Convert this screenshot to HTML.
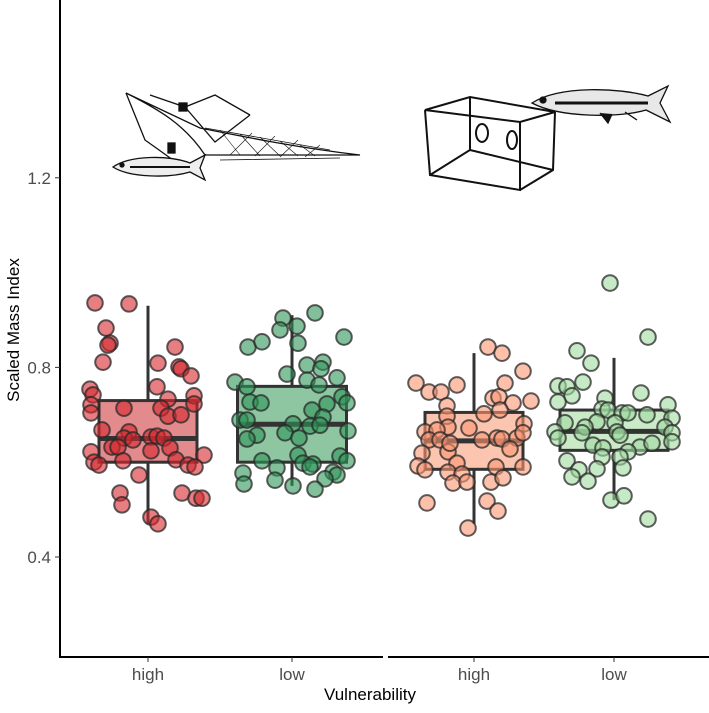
<!DOCTYPE html>
<html><head><meta charset="utf-8"><style>
body{margin:0;background:#fff;}
svg{font-family:"Liberation Sans",sans-serif;}
</style></head><body>
<svg id="chart" width="709" height="708" viewBox="0 0 709 708" xmlns="http://www.w3.org/2000/svg">
<rect width="709" height="708" fill="#fff"/>
<g id="illus" fill="none" stroke="#111" stroke-width="1.3">
  <g>
    <path d="M126 93 C160 110 185 125 205 155 L360 155 C300 148 250 138 200 128 Z" fill="#fff"/>
    <path d="M205 155 L360 155 M205 128 L330 150 M220 160 L340 158" stroke-width="0.8"/>
    <path d="M220 130 l20 25 M240 134 l20 22 M260 137 l20 19 M280 141 l18 15 M300 145 l15 11 M230 155 l22 -22 M255 156 l20 -20 M280 157 l18 -17 M305 157 l15 -12" stroke-width="0.6"/>
    <path d="M126 93 L145 140 L180 165 M150 95 L185 107 L215 95 L250 115 M185 107 L215 142 L250 115"/>
    <rect x="179" y="103" width="8" height="8" fill="#111"/>
    <rect x="168" y="143" width="7" height="10" fill="#111"/>
  </g>
  <g>
    <path d="M113 167 C130 155 170 155 190 163 L205 155 L200 168 L205 180 L190 172 C170 178 130 178 113 167 Z" fill="#eee"/>
    <path d="M130 167 L190 167" stroke-width="2"/>
    <circle cx="122" cy="165" r="2" fill="#111"/>
  </g>
  <g stroke-width="2">
    <path d="M425 110 L470 97 L555 112 L520 122 Z M425 110 L430 175 L520 190 L520 122 M520 190 L553 170 L555 112 M470 97 L470 150 L430 175 M470 150 L553 170" />
    <ellipse cx="482" cy="133" rx="6" ry="9"/><ellipse cx="512" cy="140" rx="5" ry="9"/>
  </g>
  <g>
    <path d="M532 103 C560 85 620 88 648 96 L668 86 L660 103 L670 122 L646 110 C620 118 560 118 532 103 Z" fill="#e8e8e8"/>
    <path d="M555 103 L648 103" stroke-width="3"/>
    <path d="M600 113 l8 10 l4 -9 M625 112 l12 8" fill="#111"/>
    <circle cx="543" cy="100" r="3" fill="#111"/>
  </g>
</g>
<g id="axes"></g>
<g id="plot"></g>
</svg>
<script>
const categories=["high","low","high","low"];
const q1s=[0.60,0.60,0.585,0.625];
const medians=[0.65,0.68,0.645,0.665];
const q3s=[0.73,0.76,0.705,0.71];
const whiskLo=[0.47,0.55,0.47,0.52];
const whiskHi=[0.93,0.91,0.83,0.82];
const yTicks=[0.4,0.8,1.2];
const g1Vals=[0.936,0.934,0.883,0.851,0.847,0.811,0.843,0.809,0.801,0.797,0.782,0.759,0.754,0.742,0.740,0.721,0.704,0.733,0.723,0.714,0.714,0.697,0.700,0.668,0.664,0.651,0.647,0.653,0.655,0.651,0.632,0.632,0.624,0.630,0.622,0.600,0.594,0.603,0.605,0.615,0.594,0.590,0.573,0.535,0.510,0.535,0.524,0.524,0.484,0.470];
const g1Jit=[-53,-19,-42,-38,-40,-45,27,10,31,33,43,9,-58,-55,46,-57,-57,20,46,-24,13,20,33,-46,-19,-24,-15,3,9,16,-36,-30,3,22,-57,-54,-49,-25,28,56,40,47,-9,-28,-26,34,48,54,3,10];
const g2Vals=[0.915,0.904,0.887,0.879,0.851,0.843,0.854,0.864,0.805,0.811,0.797,0.786,0.769,0.759,0.773,0.763,0.778,0.727,0.725,0.738,0.725,0.723,0.710,0.689,0.689,0.695,0.681,0.676,0.678,0.666,0.662,0.657,0.649,0.651,0.615,0.613,0.603,0.603,0.598,0.596,0.590,0.588,0.577,0.579,0.573,0.562,0.565,0.554,0.550,0.543];
const g2Jit=[23,-9,5,-12,6,-44,-30,52,15,31,29,-5,-57,-45,15,27,45,-42,-31,50,55,35,20,-52,-45,31,1,18,28,56,-7,-35,-45,7,6,48,55,-30,11,21,18,-15,-49,41,45,-17,33,-48,1,23];
const g3Vals=[0.843,0.830,0.792,0.767,0.748,0.748,0.763,0.767,0.735,0.738,0.725,0.729,0.719,0.710,0.702,0.697,0.674,0.672,0.681,0.664,0.668,0.647,0.647,0.647,0.651,0.649,0.651,0.662,0.628,0.619,0.622,0.640,0.598,0.592,0.584,0.590,0.590,0.579,0.575,0.556,0.558,0.558,0.567,0.514,0.518,0.497,0.461];
const g3Jit=[14,28,49,-58,-45,-33,-17,31,19,25,39,57,-27,26,10,-27,-26,-5,50,-49,-37,-45,-34,8,23,28,43,49,36,-52,-26,-24,-17,-56,-49,22,49,-26,-12,-21,-7,17,29,-47,13,24,-6];
const g4Vals=[0.978,0.864,0.835,0.809,0.769,0.761,0.759,0.740,0.746,0.727,0.735,0.721,0.712,0.710,0.704,0.704,0.700,0.693,0.685,0.683,0.683,0.664,0.674,0.664,0.674,0.651,0.662,0.657,0.662,0.643,0.636,0.630,0.632,0.640,0.622,0.611,0.611,0.603,0.586,0.588,0.584,0.569,0.560,0.520,0.529,0.480];
const g4Jit=[-4,34,-37,-23,-31,-56,-47,-42,27,-56,-9,54,-12,-6,8,14,33,58,-17,1,-49,-59,-29,3,51,-56,-32,6,58,58,-21,-11,26,38,14,-12,6,-47,-17,9,-35,-42,-26,-3,10,34];
const pointVals=[g1Vals,g2Vals,g3Vals,g4Vals];
const pointJit=[g1Jit,g2Jit,g3Jit,g4Jit];

const NS="http://www.w3.org/2000/svg";
const y=v=>557-(v-0.4)*474;
const xCenter=[148,292,474,614];
const boxW=[98,109,98,108];
const boxFill=["#e38a8c","#8fc6a2","#fcc5b0","#cbeac8"];
const ptFill=["rgba(214,40,46,0.6)","rgba(46,150,88,0.6)","rgba(252,150,115,0.6)","rgba(160,218,160,0.6)"];
function mk(tag,attrs,parent){const e=document.createElementNS(NS,tag);for(const k in attrs)e.setAttribute(k,attrs[k]);parent.appendChild(e);return e;}
const axes=document.getElementById('axes'),plot=document.getElementById('plot');
const ya=mk('line',{x1:60,y1:0,x2:60,y2:658,stroke:'#000','stroke-width':2},axes);


const xa1=mk('line',{x1:59,y1:657,x2:383,y2:657,stroke:'#000','stroke-width':2},axes);


const xa2=mk('line',{x1:388,y1:657,x2:709,y2:657,stroke:'#000','stroke-width':2},axes);


yTicks.forEach(t=>{
  const tk=mk('line',{x1:55,x2:60,y1:y(t),y2:y(t),stroke:'#333','stroke-width':1},axes);
  
  
  const tl=mk('text',{x:51,y:y(t)+6,'text-anchor':'end','font-size':17,fill:'#4d4d4d'},axes);
  tl.textContent=t.toFixed(1);
  
  
});
categories.forEach((c,i)=>{
  const tk=mk('line',{x1:xCenter[i],x2:xCenter[i],y1:657,y2:662,stroke:'#333'},axes);
  
  
  const tl=mk('text',{x:xCenter[i],y:680,'text-anchor':'middle','font-size':17,fill:'#4d4d4d'},axes);
  tl.textContent=c;
  
  
});
const yt=mk('text',{x:0,y:0,transform:'translate(19,330) rotate(-90)','text-anchor':'middle','font-size':17,fill:'#000'},axes);
yt.textContent='Scaled Mass Index';


const xt=mk('text',{x:370,y:700,'text-anchor':'middle','font-size':17,fill:'#000'},axes);
xt.textContent='Vulnerability';


categories.forEach((c,i)=>{
  const cx=xCenter[i],w=boxW[i];
  const g=mk('g',{},plot);
  
  
  const wl=mk('line',{x1:cx,x2:cx,y1:y(whiskHi[i]),y2:y(whiskLo[i]),stroke:'#333','stroke-width':3},g);
  
  
  const b=mk('rect',{x:cx-w/2,y:y(q3s[i]),width:w,height:y(q1s[i])-y(q3s[i]),fill:boxFill[i],stroke:'#333','stroke-width':3},g);
  
  
  const m=mk('line',{x1:cx-w/2,x2:cx+w/2,y1:y(medians[i]),y2:y(medians[i]),stroke:'#333','stroke-width':5},g);
  
  
  pointVals[i].forEach((v,j)=>{
    const p=mk('circle',{cx:cx+pointJit[i][j],cy:y(v),r:7.8,fill:ptFill[i],stroke:'rgba(40,40,40,0.75)','stroke-width':2},g);
    
    
  });
});
</script>
</body></html>
